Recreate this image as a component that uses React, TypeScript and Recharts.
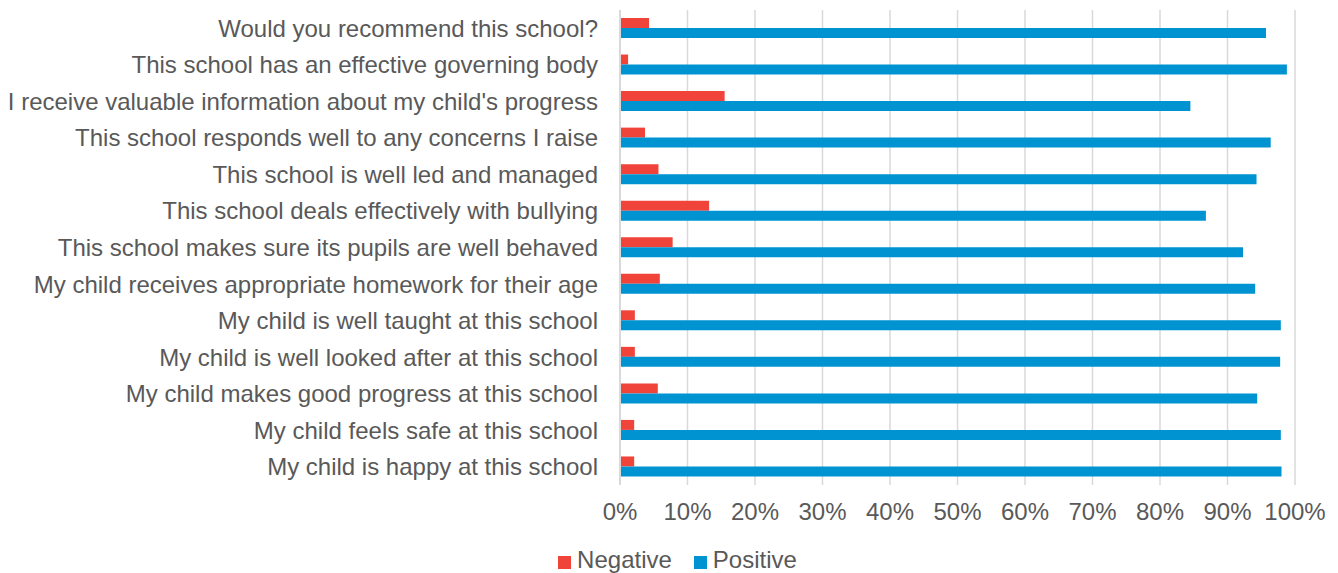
import { Bar, BarChart, CartesianGrid, Legend, XAxis, YAxis } from "recharts"

const questions = [
  "Would you recommend this school?",
  "This school has an effective governing body",
  "I receive valuable information about my child's progress",
  "This school responds well to any concerns I raise",
  "This school is well led and managed",
  "This school deals effectively with bullying",
  "This school makes sure its pupils are well behaved",
  "My child receives appropriate homework for their age",
  "My child is well taught at this school",
  "My child is well looked after at this school",
  "My child makes good progress at this school",
  "My child feels safe at this school",
  "My child is happy at this school",
]

const negative = [4.3, 1.2, 15.5, 3.7, 5.7, 13.2, 7.8, 5.9, 2.2, 2.2, 5.6, 2.1, 2.1]
const positive = [95.7, 98.8, 84.5, 96.4, 94.3, 86.8, 92.3, 94.1, 97.9, 97.8, 94.4, 97.9, 98.0]

const percentTicks = [0, 10, 20, 30, 40, 50, 60, 70, 80, 90, 100]

const RED = "#F0433A"
const BLUE = "#0093D1"
const TEXT = "#595959"
const FONT = "'Liberation Sans', Arial, sans-serif"
const FONT_SIZE = 24

const data = questions.map((name, i) => ({
  name,
  Negative: negative[i],
  Positive: positive[i],
}))

function LegendContent() {
  const items = [
    { label: "Negative", color: RED },
    { label: "Positive", color: BLUE },
  ]
  return (
    <div
      style={{
        display: "flex",
        justifyContent: "center",
        alignItems: "center",
        paddingLeft: 17,
        fontFamily: FONT,
        fontSize: FONT_SIZE,
        color: TEXT,
        lineHeight: "26px",
      }}
    >
      {items.map((item, i) => (
        <div
          key={item.label}
          style={{ display: "flex", alignItems: "center", marginLeft: i === 0 ? 0 : 22 }}
        >
          <span
            style={{
              display: "inline-block",
              width: 13,
              height: 13,
              background: item.color,
              marginRight: 6,
              marginTop: 4,
            }}
          />
          <span>{item.label}</span>
        </div>
      ))}
    </div>
  )
}

export default function App() {
  return (
    <div style={{ position: "absolute", left: 0, top: 0, width: 1338, height: 573, background: "#fff" }}>
      <BarChart
        width={1338}
        height={573}
        data={data}
        layout="vertical"
        margin={{ top: 10, right: 43, left: 0, bottom: 0 }}
        barGap={0}
        barSize={10}
      >
        <CartesianGrid horizontal={false} stroke="#D9D9D9" strokeWidth={1.5} />
        <XAxis
          type="number"
          domain={[0, 100]}
          ticks={percentTicks}
          tickFormatter={(v: number) => `${v}%`}
          axisLine={false}
          tickLine={false}
          tickSize={0}
          tickMargin={18}
          height={62}
          interval={0}
          tick={{ fill: TEXT, fontSize: FONT_SIZE, fontFamily: FONT }}
        />
        <YAxis
          type="category"
          dataKey="name"
          width={620}
          axisLine={{ stroke: "#D9D9D9", strokeWidth: 2 }}
          tickLine={false}
          tickSize={0}
          tickMargin={22}
          interval={0}
          tick={{ fill: TEXT, fontSize: FONT_SIZE, fontFamily: FONT }}
        />
        <Legend
          verticalAlign="bottom"
          content={<LegendContent />}
          wrapperStyle={{ top: 547, left: 0, width: 1338, height: 26 }}
        />
        <Bar dataKey="Negative" fill={RED} isAnimationActive={false} />
        <Bar dataKey="Positive" fill={BLUE} isAnimationActive={false} />
      </BarChart>
    </div>
  )
}
